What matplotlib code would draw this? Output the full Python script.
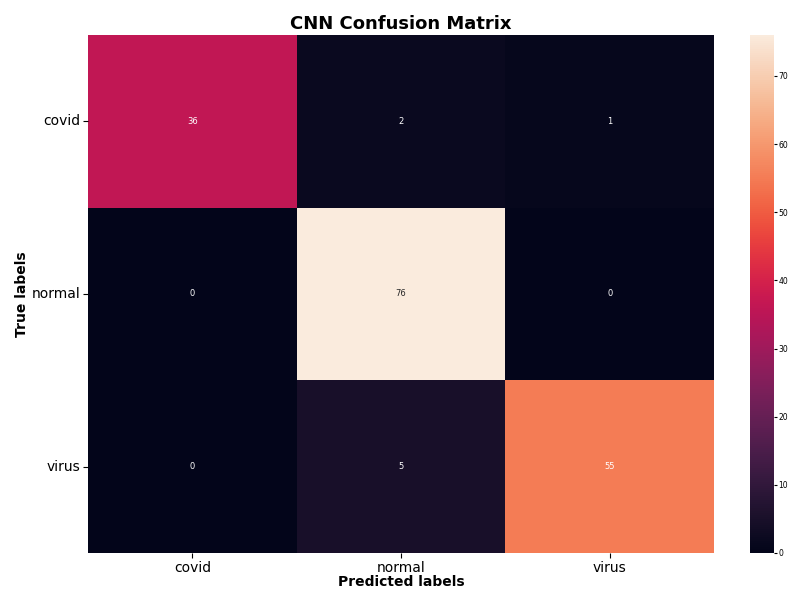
import matplotlib
matplotlib.use('Agg')
import matplotlib.pyplot as plt
import seaborn as sns
import numpy as np

labels = ['covid', 'normal', 'virus']
cm = np.array([
    [36, 2, 1],
    [0, 76, 0],
    [0, 5, 55],
])

W, H = 792, 591
fig = plt.figure(figsize=(W / 100, H / 100), dpi=100)
ax = fig.add_axes([88 / W, 1 - 553 / H, (714 - 88) / W, (553 - 35) / H])
cax = fig.add_axes([750 / W, 1 - 553 / H, 24 / W, (553 - 35) / H])

sns.heatmap(cm, annot=True, fmt='d', cmap='rocket', ax=ax, cbar_ax=cax,
            annot_kws={'fontsize': 6}, xticklabels=labels, yticklabels=labels)

ax.set_title('CNN Confusion Matrix', fontsize=13, fontweight='bold', pad=4)
ax.set_xlabel('Predicted labels', fontsize=10, fontweight='bold', labelpad=0)
ax.set_ylabel('True labels', fontsize=10, fontweight='bold', labelpad=2)
ax.tick_params(axis='both', labelsize=10, pad=2)
plt.setp(ax.get_yticklabels(), rotation=0)
cax.tick_params(labelsize=5.5, pad=1, length=2)

fig.savefig('out.png', dpi=100, facecolor='white')
